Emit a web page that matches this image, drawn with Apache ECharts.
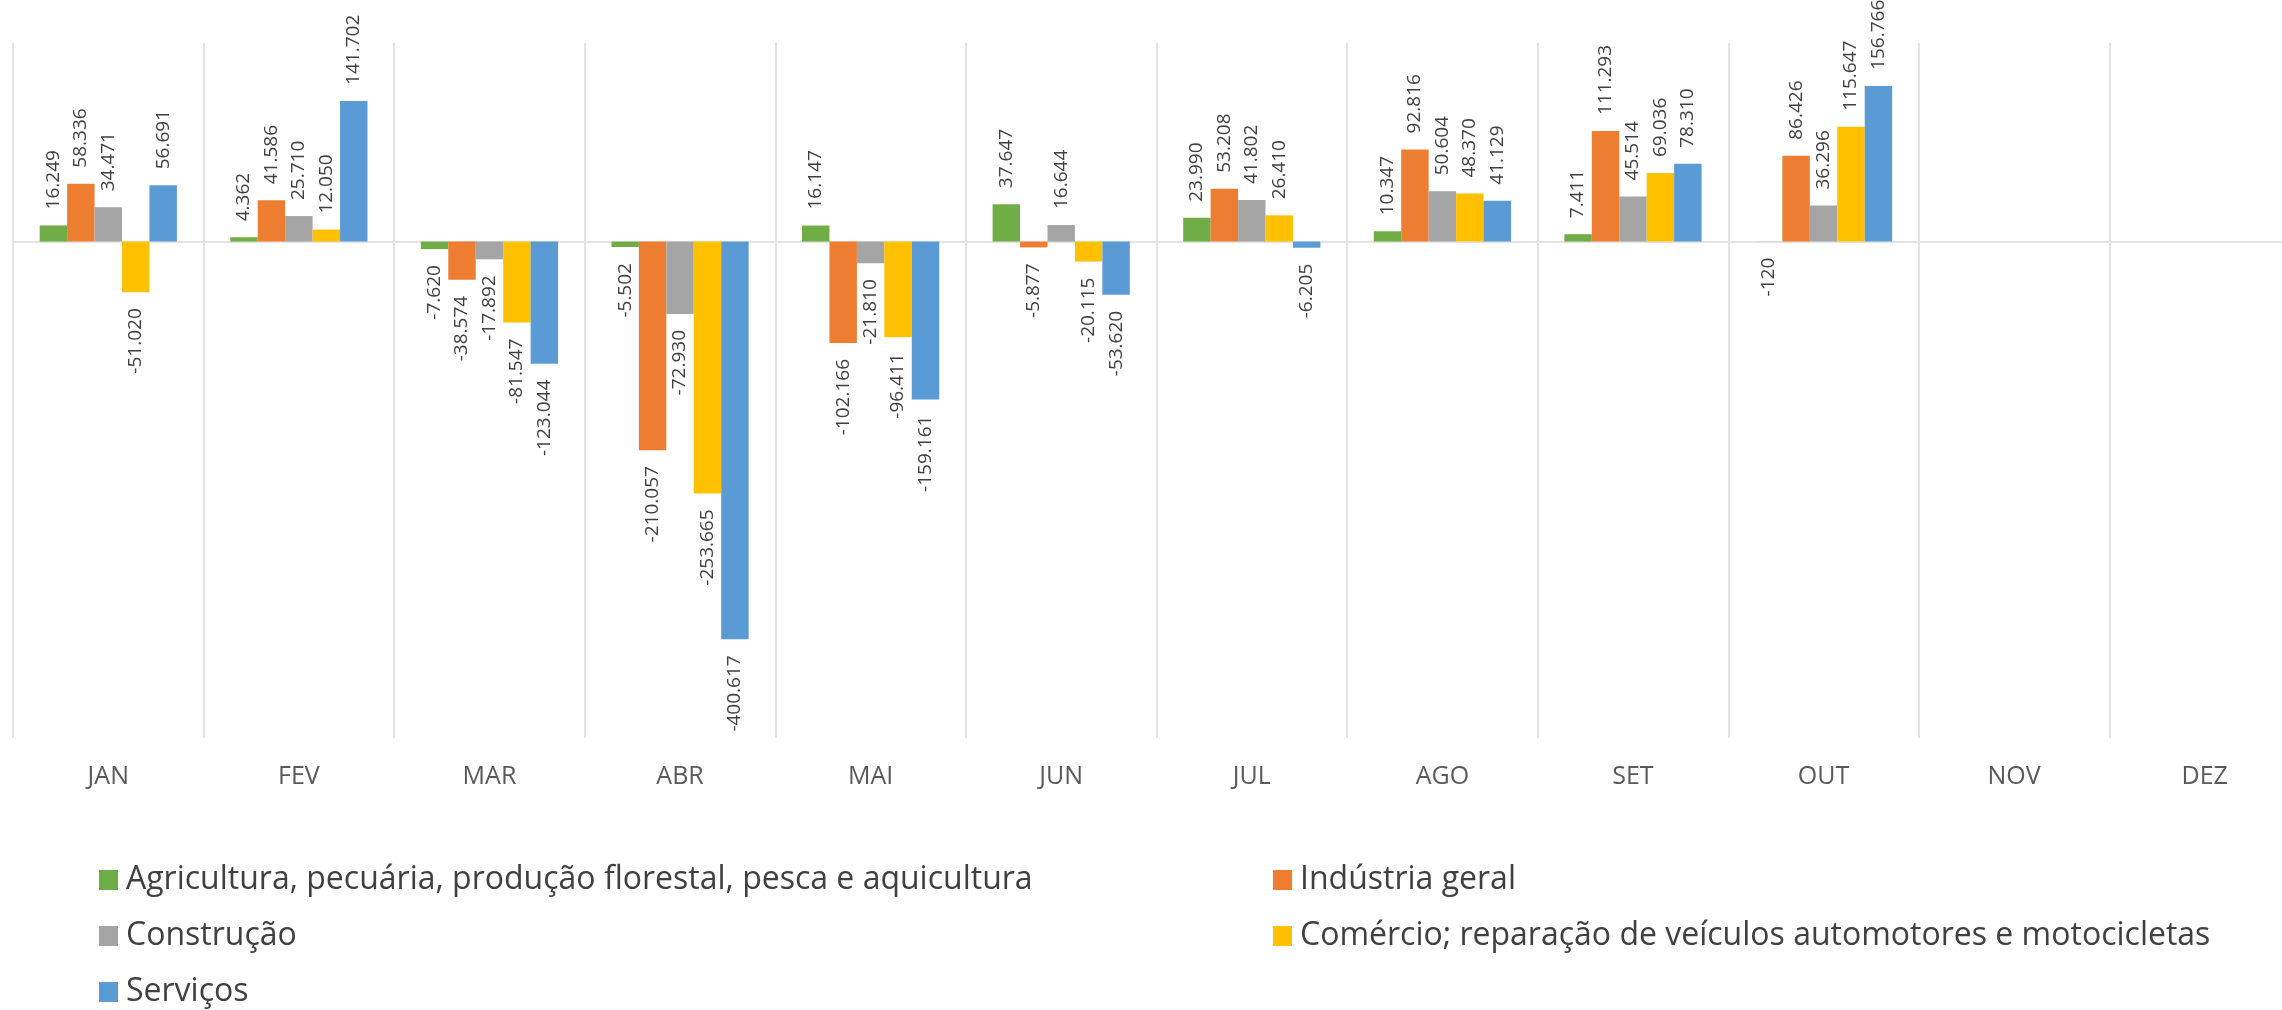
<!DOCTYPE html>
<html>
<head>
<meta charset="utf-8">
<script src="https://cdn.jsdelivr.net/npm/echarts@6/dist/echarts.min.js"></script>
<style>
    html, body { margin: 0; padding: 0; background: #fff; }
    #main { width: 2282px; height: 1010px; }
</style>
</head>
<body>
<div id="main"></div>
<script>
// dados mensais (saldo por setor)
var meses = ['JAN', 'FEV', 'MAR', 'ABR', 'MAI', 'JUN', 'JUL', 'AGO', 'SET', 'OUT', 'NOV', 'DEZ'];
var nomes = [
    'Agricultura, pecuária, produção florestal, pesca e aquicultura',
    'Indústria geral',
    'Construção',
    'Comércio; reparação de veículos automotores e motocicletas',
    'Serviços'
];
var agro = [16249, 4362, -7620, -5502, 16147, 37647, 23990, 10347, 7411, -120, null, null];
var industria = [58336, 41586, -38574, -210057, -102166, -5877, 53208, 92816, 111293, 86426, null, null];
var construcao = [34471, 25710, -17892, -72930, -21810, 16644, 41802, 50604, 45514, 36296, null, null];
var comercio = [-51020, 12050, -81547, -253665, -96411, -20115, 26410, 48370, 69036, 115647, null, null];
var servicos = [56691, 141702, -123044, -400617, -159161, -53620, -6205, 41129, 78310, 156766, null, null];
var cores = ['#70ad47', '#ed7d31', '#a5a5a5', '#ffc000', '#5b9bd5'];

var fonte = '"Open Sans", "Noto Sans", sans-serif';

// 16249 -> 16.249
function formata(v){
    var s = String(Math.abs(v)).replace(/\B(?=(\d{3})+(?!\d))/g, '.');
    return (v < 0 ? '-' : '') + s;
}

// rotulo em cima (positivo) ou embaixo (negativo)
function pontos(valores){
    return valores.map(function(v){
        if (v == null) return null;
        return {
            value: v,
            label: v < 0
                ? { position: 'bottom', align: 'right' }
                : { position: 'top', align: 'left' }
        };
    });
}

function serie(nome, valores){
    return {
        name: nome,
        type: 'bar',
        barGap: '0%',
        barCategoryGap: '28%',
        data: pontos(valores),
        label: {
            show: true,
            rotate: 90,
            verticalAlign: 'middle',
            distance: 16,
            fontFamily: fonte,
            fontSize: 19,
            color: '#404040',
            formatter: function(p){ return formata(p.value); }
        }
    };
}

// legenda em duas colunas
function legenda(itens, x){
    return {
        data: itens,
        orient: 'vertical',
        left: x,
        top: 863,
        height: 300,
        padding: 0,
        icon: 'rect',
        itemWidth: 19,
        itemHeight: 20,
        itemGap: 22,
        textStyle: { fontFamily: fonte, fontSize: 32, lineHeight: 34, color: '#404040', padding: [0, 0, 0, 3] }
    };
}

var myChart = echarts.init(document.getElementById('main'));
option = {
    animation: false,
    color: cores,
    grid: {
        left: 13,
        top: 43,
        width: 2287,
        height: 695,
        outerBoundsMode: 'none'
    },
    legend: [
        legenda([nomes[0], nomes[2], nomes[4]], 99),
        legenda([nomes[1], nomes[3]], 1273)
    ],
    xAxis: {
        type: 'category',
        data: meses,
        position: 'bottom',
        axisLine: { show: false },
        axisTick: { show: false },
        axisLabel: { margin: 26, fontFamily: fonte, fontSize: 25, color: '#595959' },
        splitLine: { show: true, lineStyle: { color: '#e3e3e3', width: 2 } }
    },
    yAxis: {
        type: 'value',
        min: -500000,
        max: 200000,
        interval: 500000,
        axisLine: { show: false },
        axisTick: { show: false },
        axisLabel: { show: false },
        splitLine: {
            show: true,
            showMinLine: false,
            showMaxLine: false,
            lineStyle: { color: '#e3e3e3', width: 2 }
        }
    },
    series: [
        serie(nomes[0], agro),
        serie(nomes[1], industria),
        serie(nomes[2], construcao),
        serie(nomes[3], comercio),
        serie(nomes[4], servicos)
    ]
};
myChart.setOption(option);
</script>
</body>
</html>
